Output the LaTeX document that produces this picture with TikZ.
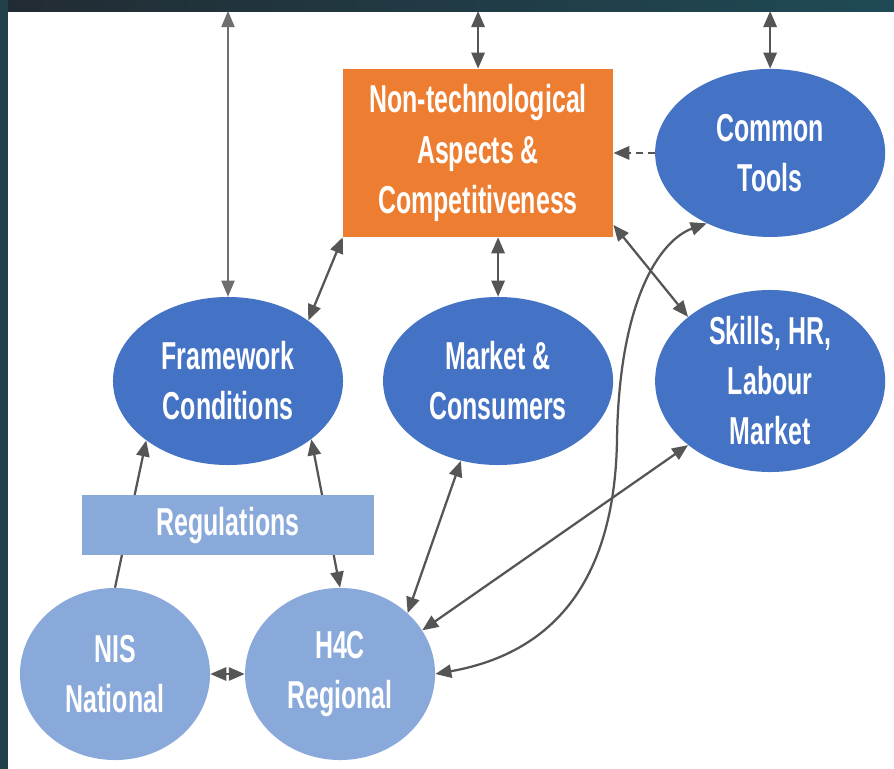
\documentclass[tikz,border=0pt]{standalone}
\usepackage{fontspec}
\newfontfamily\diagfont[FakeStretch=0.64]{Liberation Sans}
\usepackage{tikz}
\usetikzlibrary{positioning}
\usetikzlibrary{calc}
\usetikzlibrary{arrows.meta}
\usetikzlibrary{shapes}

\definecolor{hblue}{HTML}{4472C4}
\definecolor{hlight}{HTML}{8AA9DB}
\definecolor{horange}{HTML}{ED7D31}
\definecolor{hgray}{HTML}{555555}
\definecolor{hdarkA}{HTML}{222B33}
\definecolor{hdarkB}{HTML}{1F4A55}
\definecolor{hdarkC}{HTML}{214049}

\begin{document}
\begin{tikzpicture} [
    x=0.025cm, y=-0.025cm,        % one unit is one pixel, y going down
    node distance=6.75cm and 6.75cm,
    ]
% -------------------------------------------------
\tikzset{
  base/.style={on grid, align=center, inner sep=0pt, text=white,
    font=\diagfont\bfseries\fontsize{27.7}{35.6}\selectfont},
  oval/.style={base, ellipse, fill=hblue, minimum width=5.75cm, minimum height=4.2cm},
  lightoval/.style={oval, fill=hlight, minimum width=4.75cm, minimum height=4.3cm},
  rect/.style={base, rectangle, fill=horange, minimum width=6.75cm, minimum height=4.2cm},
  bar/.style={base, rectangle, fill=hlight, minimum width=7.275cm, minimum height=1.5cm},
  line/.style={draw=hgray, line width=1.6pt,
    arrows={Triangle[length=4mm,width=3.3mm]-Triangle[length=4mm,width=3.3mm]}},
  oneway/.style={line, arrows={-Triangle[length=4mm,width=3.3mm]}},
}
    \useasboundingbox (0,0) rectangle (894,769);
    \fill [white] (0,0) rectangle (894,769);
    \shade [left color=hdarkA, right color=hdarkB] (0,0) rectangle (894,11);
    \fill [hdarkC] (0,0) rectangle (8,769);

    \node [oval] (frame) at (228,381) {Framework\\Conditions};
    \node [oval, right=of frame] (market) {Market \&\\Consumers};
    \node [oval, right=6.8cm of market] (skills) {Skills, HR,\\Labour\\Market};
    \node [oval, above=5.7cm of skills] (tools) {Common\\Tools};
    \node [rect, left=7.3cm of tools] (aspects) {Non-technological\\Aspects \&\\Competitiveness};

    \node [lightoval] (nis) at (115,674) {NIS\\National};
    \node [lightoval, right=5.625cm of nis] (h4c) {H4C\\Regional};

    \coordinate (topF) at (frame.north |- 0,11);
    \coordinate (topA) at (aspects.north |- 0,11);
    \coordinate (topT) at (tools.north |- 0,11);

    \path [line, line width=0.9pt, draw=hgray!85] (topF) -- (frame.north);
    \path [line] (topA) -- (aspects.north);
    \path [line] (topT) -- (tools.north);
    \path [oneway, line width=2pt, dash pattern=on 5pt off 3.5pt] (tools.west) -- (aspects.east);

    \path [line] (aspects.south west) -- (frame.37);
    \path [line] (market.north |- aspects.south) -- (market.north);
    \path [line] (aspects.-28) -- (skills.142);

    \path [oneway] (nis.north) -- (frame.216);
    \path [line] (frame.-35) -- (h4c.north);
    \path [line] (nis.east) -- (h4c.west);
    \path [line] (h4c.42) -- (market.245);
    \path [line] (h4c.28) -- (skills.218);
    \path [line] (h4c.east) .. controls (570,650) and (615,560) .. (617,440)
        .. controls (619,300) and (660,240) .. (tools.228);

    \node [bar, below=3.6cm of frame] (regs) {Regulations};

\end{tikzpicture}
\end{document}
